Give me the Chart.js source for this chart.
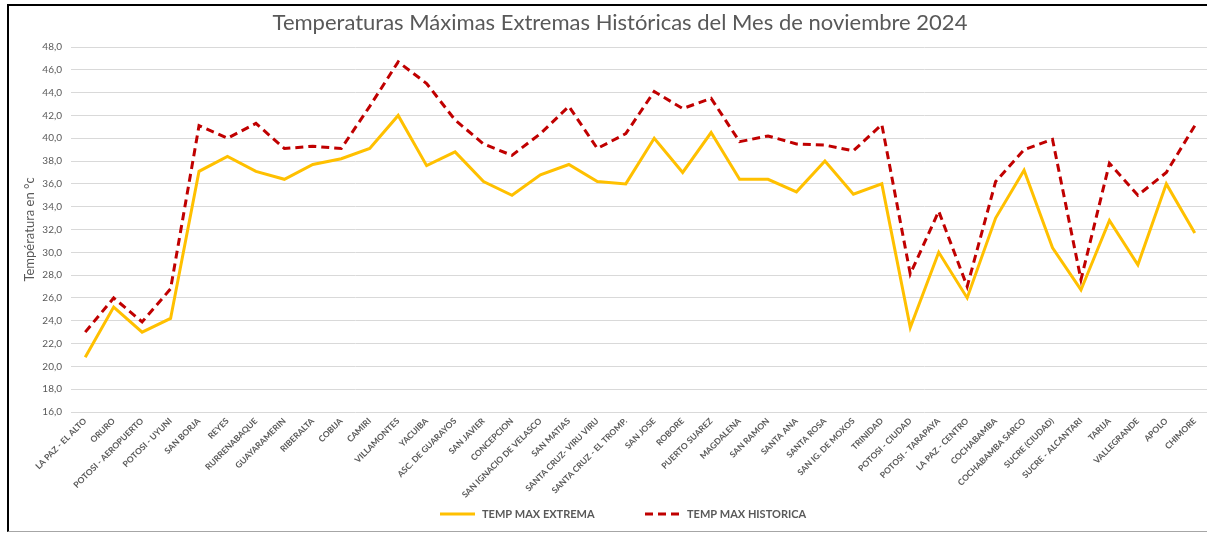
<!DOCTYPE html>
<html>
<head>
<meta charset="utf-8">
<script src="https://cdn.jsdelivr.net/npm/chart.js@4.4.1/dist/chart.umd.min.js"></script>
<style>
  html, body { margin: 0; padding: 0; background: #fff; overflow: hidden; }
  #frame {
    position: absolute; left: 7px; top: 4px;
    width: 1210px; height: 525px;
    border-top: 2px solid #000; border-left: 2px solid #000; border-bottom: 1px solid #a6a6a6;
  }
  #chart { display: block; }
</style>
</head>
<body>
<div id="frame"><canvas id="chart" width="1200" height="524"></canvas></div>
<script>
const stations = [
  'LA PAZ - EL ALTO', 'ORURO', 'POTOSI - AEROPUERTO', 'POTOSI - UYUNI', 'SAN BORJA',
  'REYES', 'RURRENABAQUE', 'GUAYARAMERIN', 'RIBERALTA', 'COBIJA',
  'CAMIRI', 'VILLAMONTES', 'YACUIBA', 'ASC. DE GUARAYOS', 'SAN JAVIER',
  'CONCEPCION', 'SAN IGNACIO DE VELASCO', 'SAN MATIAS', 'SANTA CRUZ- VIRU VIRU', 'SANTA CRUZ - EL TROMP.',
  'SAN JOSE', 'ROBORE', 'PUERTO SUAREZ', 'MAGDALENA', 'SAN RAMON',
  'SANTA ANA', 'SANTA ROSA', 'SAN IG. DE MOXOS', 'TRINIDAD', 'POTOSI - CIUDAD',
  'POTOSI - TARAPAYA', 'LA PAZ - CENTRO', 'COCHABAMBA', 'COCHABAMBA SARCO', 'SUCRE (CIUDAD)',
  'SUCRE - ALCANTARI', 'TARIJA', 'VALLEGRANDE', 'APOLO', 'CHIMORE'
];

const tempMaxExtrema = [
  20.8, 25.2, 23.0, 24.2, 37.1,
  38.4, 37.1, 36.4, 37.7, 38.2,
  39.1, 42.0, 37.6, 38.8, 36.2,
  35.0, 36.8, 37.7, 36.2, 36.0,
  40.0, 37.0, 40.5, 36.4, 36.4,
  35.3, 38.0, 35.1, 36.0, 23.4,
  30.0, 26.0, 33.0, 37.2, 30.4,
  26.7, 32.8, 28.9, 36.0, 31.7
];

const tempMaxHistorica = [
  23.0, 26.0, 23.9, 26.8, 41.1,
  40.0, 41.3, 39.1, 39.3, 39.1,
  42.8, 46.7, 44.8, 41.6, 39.5,
  38.5, 40.4, 42.8, 39.1, 40.4,
  44.1, 42.6, 43.5, 39.7, 40.2,
  39.5, 39.4, 38.9, 41.2, 28.1,
  33.6, 27.0, 36.2, 39.0, 39.9,
  27.6, 37.8, 35.0, 37.0, 41.1
];

const yTicks = [16, 18, 20, 22, 24, 26, 28, 30, 32, 34, 36, 38, 40, 42, 44, 46, 48];

const chartTitle = 'Temperaturas Máximas Extremas Históricas del Mes de noviembre 2024';
const gray = '#595959';
const fontFamily = 'Lato, "Open Sans", sans-serif';

// title and legend drawn by hand so their placement matches the original
const textPlugin = {
  id: 'manualText',
  afterDraw(chart) {
    const c = chart.ctx;
    c.save();
    c.fillStyle = gray;
    c.font = '22px ' + fontFamily;
    c.textAlign = 'center';
    c.textBaseline = 'middle';
    c.fillText(chartTitle, 611, 17);

    const y = 508;
    const items = [
      { ds: chart.data.datasets[0], x: 431 },
      { ds: chart.data.datasets[1], x: 636 }
    ];
    c.font = 'bold 11px ' + fontFamily;
    c.textAlign = 'left';
    items.forEach(it => {
      c.strokeStyle = it.ds.borderColor;
      c.lineWidth = it.ds.borderWidth;
      c.setLineDash(it.ds.borderDash || []);
      c.beginPath();
      c.moveTo(it.x, y);
      c.lineTo(it.x + 35, y);
      c.stroke();
      c.fillStyle = gray;
      c.fillText(it.ds.label, it.x + 42, y + 0.5);
    });
    c.restore();
  }
};

const ctx = document.getElementById('chart').getContext('2d');
new Chart(ctx, {
  type: 'line',
  data: {
    labels: stations,
    datasets: [
      {
        label: 'TEMP MAX EXTREMA',
        data: tempMaxExtrema,
        borderColor: '#FFC000',
        backgroundColor: '#FFC000',
        borderWidth: 3,
        pointRadius: 0,
        tension: 0,
        fill: false
      },
      {
        label: 'TEMP MAX HISTORICA',
        data: tempMaxHistorica,
        borderColor: '#C00000',
        backgroundColor: '#C00000',
        borderWidth: 3,
        borderDash: [8, 5],
        pointRadius: 0,
        tension: 0,
        fill: false
      }
    ]
  },
  options: {
    responsive: false,
    animation: false,
    devicePixelRatio: 1,
    layout: { padding: { left: 0, right: 0, top: 41, bottom: 26 } },
    plugins: {
      title: { display: false },
      legend: { display: false },
      tooltip: { enabled: false }
    },
    scales: {
      x: {
        offset: true,
        grid: { display: false, drawTicks: false },
        border: { display: false },
        ticks: {
          autoSkip: false,
          minRotation: 45,
          maxRotation: 45,
          padding: 4,
          color: gray,
          font: { family: fontFamily, size: 8.5, weight: 'bold' }
        },
        afterFit: (scale) => { scale.height = 92; }
      },
      y: {
        min: 16,
        max: 48,
        afterBuildTicks: (scale) => { scale.ticks = yTicks.map(v => ({ value: v })); },
        grid: { color: '#d9d9d9', lineWidth: 1, drawTicks: false },
        border: { display: false },
        ticks: {
          padding: 9,
          color: gray,
          font: { family: fontFamily, size: 10 },
          callback: (v) => Number(v).toFixed(1).replace('.', ',')
        },
        title: {
          display: true,
          text: 'Températura en °c',
          color: gray,
          font: { family: fontFamily, size: 13 },
          padding: { top: 13, bottom: 0 }
        },
        afterFit: (scale) => { scale.width = 62; }
      }
    }
  },
  plugins: [textPlugin]
});
</script>
</body>
</html>
